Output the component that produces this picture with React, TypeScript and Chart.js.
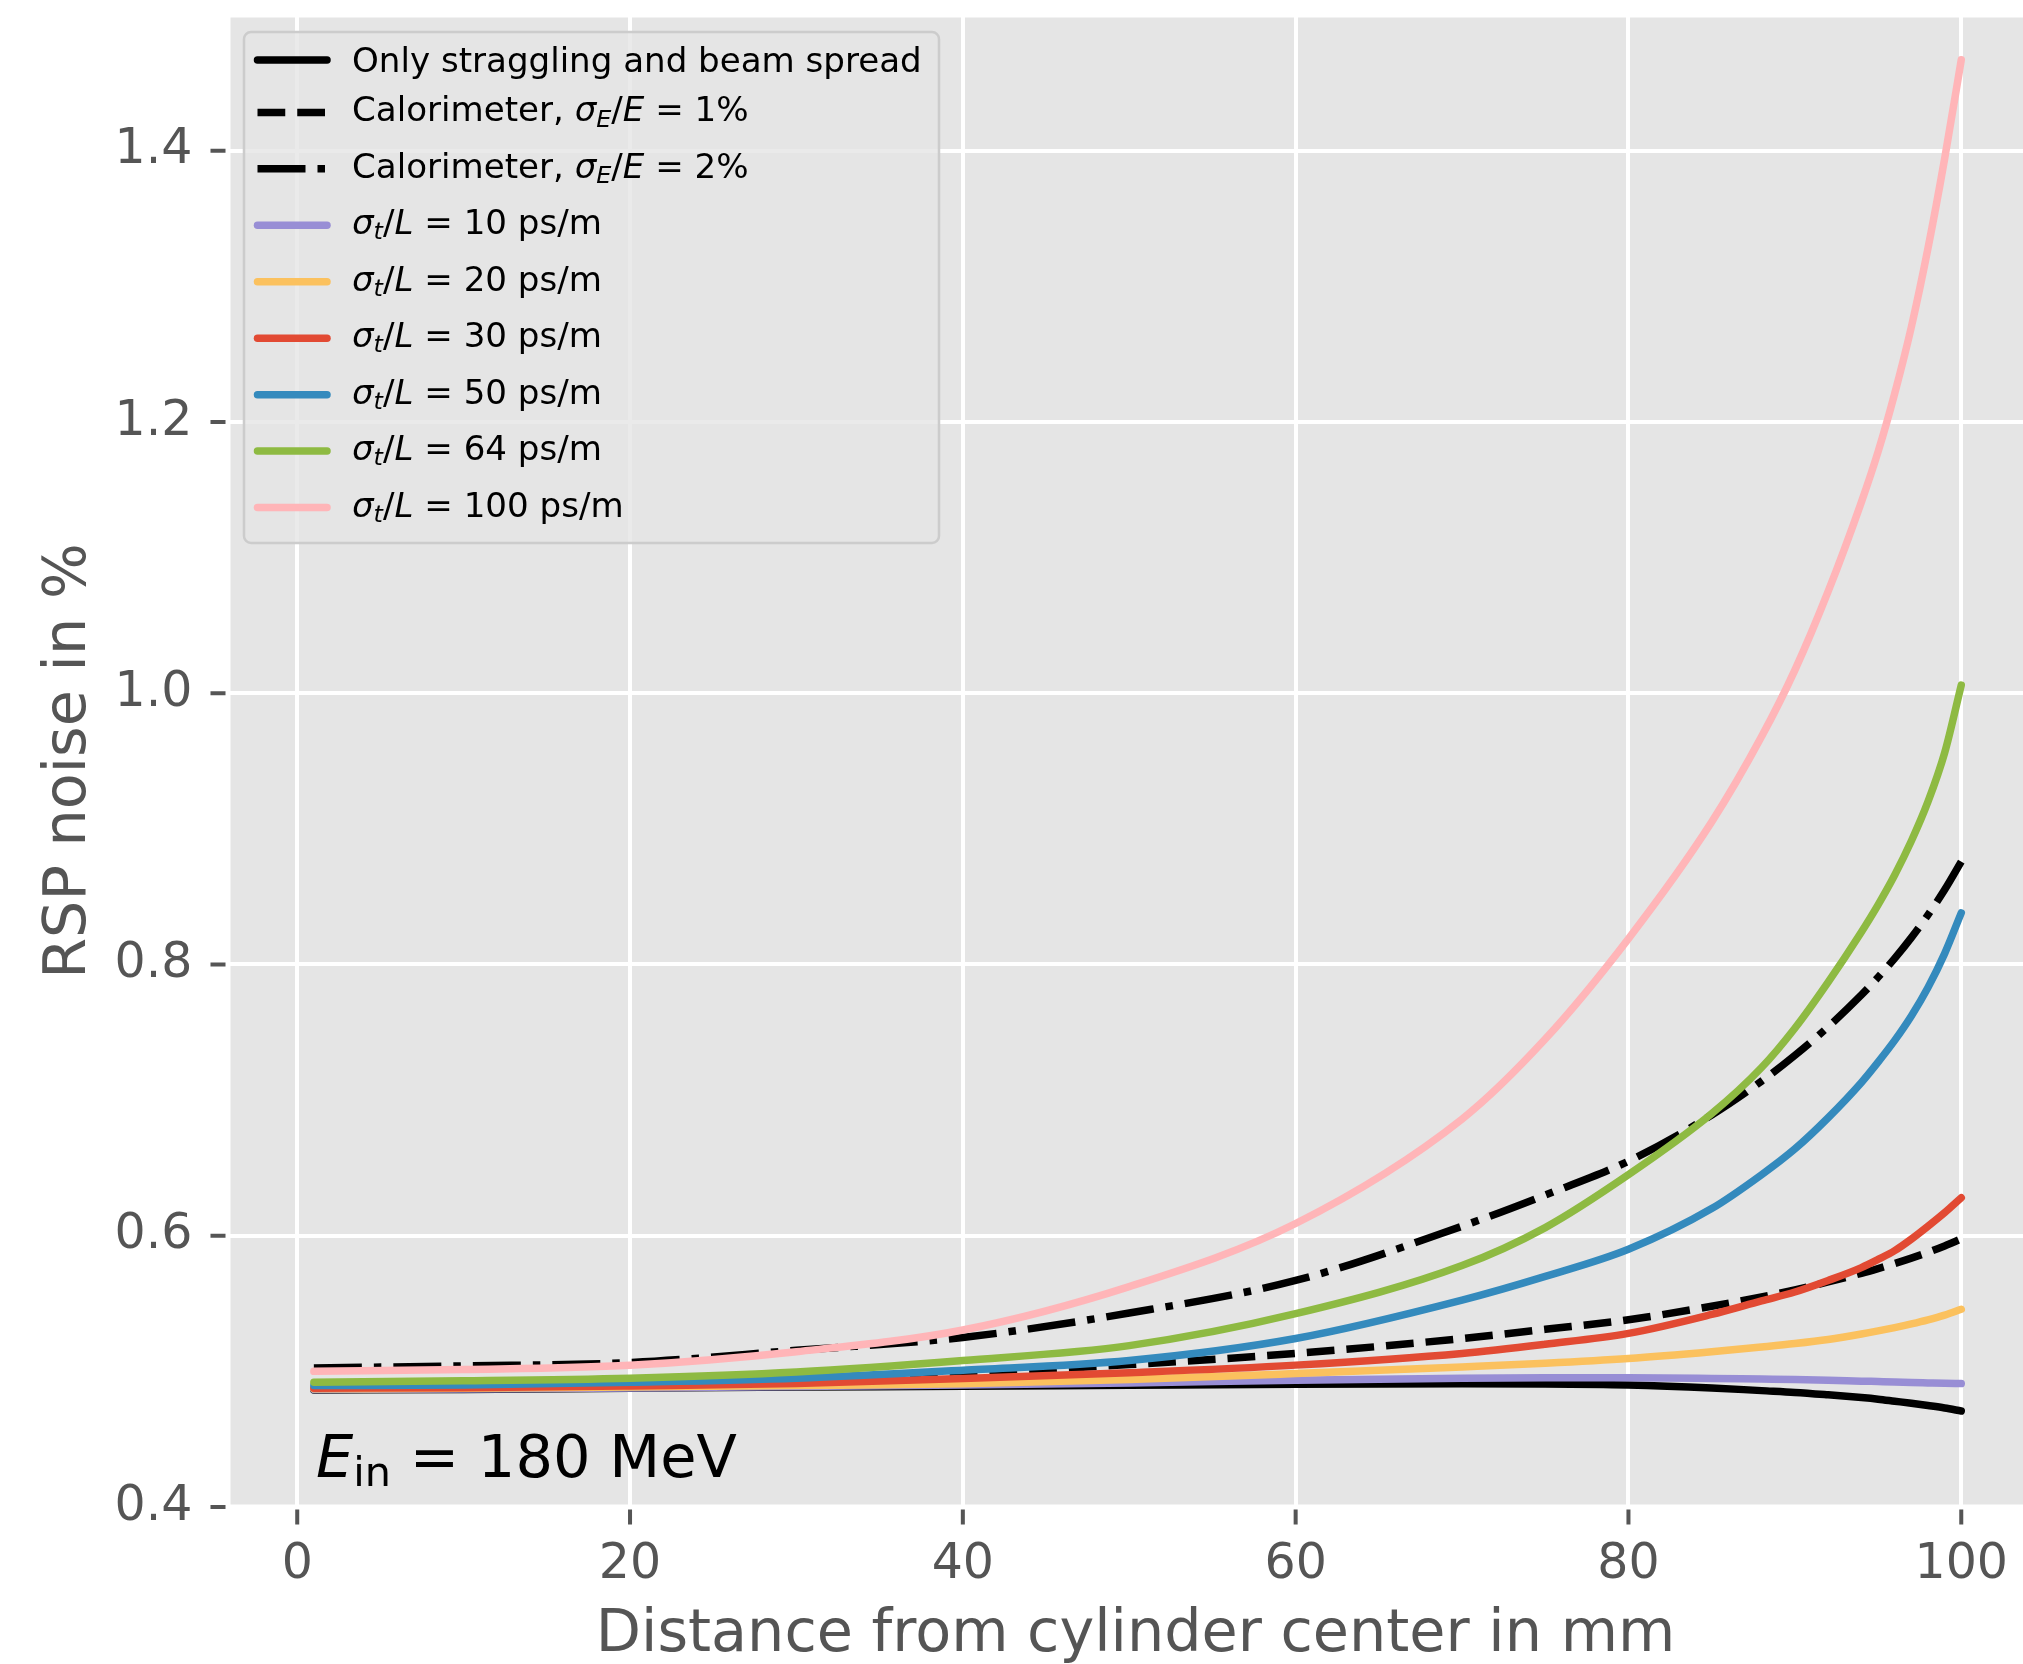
import { useEffect, useRef } from "react";
import { Chart, registerables } from "chart.js";

Chart.register(...registerables);

// Distance from the cylinder center (mm) at which the RSP noise was evaluated
const distanceMm = [1, 10, 20, 30, 40, 50, 60, 70, 75, 80, 85, 88, 90, 92, 94, 95, 96, 97, 98, 99, 100];

// RSP noise in % for each resolution scenario
const onlyStraggling = [0.4863, 0.4867, 0.4876, 0.4884, 0.489, 0.4898, 0.4905, 0.4908, 0.4907, 0.49, 0.4878, 0.4858, 0.4845, 0.4827, 0.4807, 0.4795, 0.478, 0.4765, 0.4748, 0.473, 0.4708];
const calorimeter1 = [0.489, 0.4895, 0.491, 0.494, 0.4984, 0.505, 0.5132, 0.5242, 0.531, 0.538, 0.548, 0.5549, 0.5601, 0.5659, 0.5723, 0.5758, 0.5795, 0.5835, 0.5878, 0.5925, 0.5977];
const calorimeter2 = [0.5025, 0.504, 0.5065, 0.5155, 0.525, 0.543, 0.567, 0.607, 0.63, 0.655, 0.689, 0.714, 0.733, 0.754, 0.7775, 0.7905, 0.8045, 0.8198, 0.8365, 0.855, 0.8758];
const tof10 = [0.4866, 0.487, 0.4878, 0.4888, 0.49, 0.4915, 0.4935, 0.495, 0.4953, 0.4953, 0.4948, 0.4943, 0.494, 0.4935, 0.4928, 0.4925, 0.4922, 0.4918, 0.4915, 0.4912, 0.491];
const tof20 = [0.4871, 0.4875, 0.4885, 0.4895, 0.4908, 0.494, 0.4984, 0.5033, 0.506, 0.5095, 0.5145, 0.518, 0.5205, 0.5235, 0.5275, 0.5298, 0.5323, 0.535, 0.538, 0.5415, 0.5458];
const tof30 = [0.4876, 0.488, 0.4893, 0.491, 0.4947, 0.499, 0.5046, 0.5132, 0.52, 0.528, 0.542, 0.552, 0.5585, 0.567, 0.5765, 0.5825, 0.589, 0.5975, 0.607, 0.617, 0.628];
const tof50 = [0.4895, 0.49, 0.492, 0.495, 0.5009, 0.508, 0.5242, 0.5525, 0.57, 0.59, 0.62, 0.645, 0.664, 0.687, 0.713, 0.728, 0.744, 0.762, 0.783, 0.808, 0.838];
const tof64 = [0.492, 0.493, 0.495, 0.4995, 0.508, 0.519, 0.5425, 0.578, 0.606, 0.645, 0.69, 0.724, 0.753, 0.787, 0.824, 0.844, 0.866, 0.891, 0.92, 0.956, 1.006];
const tof100 = [0.5, 0.5013, 0.5045, 0.5145, 0.5305, 0.5625, 0.609, 0.686, 0.745, 0.819, 0.905, 0.968, 1.017, 1.075, 1.141, 1.178, 1.221, 1.27, 1.328, 1.394, 1.467];

const xTickValues = [0, 20, 40, 60, 80, 100];
const yTickValues = [0.4, 0.6, 0.8, 1.0, 1.2, 1.4];

const xTitle = "Distance from cylinder center in mm";
const yTitle = "RSP noise in %";

type Run = { t: string; i?: boolean; sub?: boolean };

const energyRuns: Run[] = [{ t: "E", i: true }, { t: "in", sub: true }, { t: " = 180 MeV" }];

const tofRuns = (v: string): Run[] => [
  { t: "σ", i: true },
  { t: "t", i: true, sub: true },
  { t: "/" },
  { t: "L", i: true },
  { t: ` = ${v} ps/m` },
];
const caloRuns = (v: string): Run[] => [
  { t: "Calorimeter, " },
  { t: "σ", i: true },
  { t: "E", i: true, sub: true },
  { t: "/" },
  { t: "E", i: true },
  { t: ` = ${v}%` },
];

const FAMILY = '"DejaVu Sans"';
const LW = 7.5;
const DASHED = [27.75, 12];
const DASHDOT = [48, 12, 7.5, 12];

type Series = { label: string; runs: Run[]; values: number[]; color: string; dash: number[] };

const series: Series[] = [
  { label: "Only straggling and beam spread", runs: [{ t: "Only straggling and beam spread" }], values: onlyStraggling, color: "#000000", dash: [] },
  { label: "Calorimeter, σE/E = 1%", runs: caloRuns("1"), values: calorimeter1, color: "#000000", dash: DASHED },
  { label: "Calorimeter, σE/E = 2%", runs: caloRuns("2"), values: calorimeter2, color: "#000000", dash: DASHDOT },
  { label: "σt/L = 10 ps/m", runs: tofRuns("10"), values: tof10, color: "#988ED5", dash: [] },
  { label: "σt/L = 20 ps/m", runs: tofRuns("20"), values: tof20, color: "#FBC15E", dash: [] },
  { label: "σt/L = 30 ps/m", runs: tofRuns("30"), values: tof30, color: "#E24A33", dash: [] },
  { label: "σt/L = 50 ps/m", runs: tofRuns("50"), values: tof50, color: "#348ABD", dash: [] },
  { label: "σt/L = 64 ps/m", runs: tofRuns("64"), values: tof64, color: "#8EBA42", dash: [] },
  { label: "σt/L = 100 ps/m", runs: tofRuns("100"), values: tof100, color: "#FFB5B8", dash: [] },
];

function drawRuns(ctx: CanvasRenderingContext2D, runs: Run[], x: number, y: number, size: number, subShift: number) {
  let cx = x;
  for (const r of runs) {
    const s = r.sub ? size * 0.7 : size;
    ctx.font = `${r.i ? "italic " : ""}${s}px ${FAMILY}`;
    ctx.fillText(r.t, cx, r.sub ? y + size * subShift : y);
    cx += ctx.measureText(r.t).width;
  }
}

const decorations = {
  id: "ggDecor",
  beforeDraw(chart: any) {
    const { ctx, chartArea: a } = chart;
    ctx.save();
    ctx.fillStyle = "#ffffff";
    ctx.fillRect(0, 0, chart.width, chart.height);
    ctx.fillStyle = "#E5E5E5";
    ctx.fillRect(a.left, a.top, a.right - a.left, a.bottom - a.top);
    ctx.restore();
  },
  afterDatasetsDraw(chart: any) {
    const { ctx, chartArea: a } = chart;
    ctx.save();
    // white spines
    ctx.strokeStyle = "#ffffff";
    ctx.lineWidth = 5;
    ctx.beginPath();
    ctx.moveTo(a.left, a.top);
    ctx.lineTo(a.right, a.top);
    ctx.moveTo(a.left, a.top);
    ctx.lineTo(a.left, a.bottom);
    ctx.lineTo(a.right, a.bottom);
    ctx.stroke();

    // beam energy annotation
    ctx.fillStyle = "#000000";
    ctx.textBaseline = "alphabetic";
    ctx.textAlign = "left";
    drawRuns(ctx, energyRuns, 316, 1477, 59, 0.157);

    // legend
    const lx = 244, ly = 32, lw = 695, lh = 511;
    ctx.beginPath();
    ctx.roundRect(lx, ly, lw, lh, 7);
    ctx.fillStyle = "rgba(229,229,229,0.8)";
    ctx.fill();
    ctx.strokeStyle = "#CCCCCC";
    ctx.lineWidth = 2.5;
    ctx.stroke();

    series.forEach((s, i) => {
      const cy = i === 0 ? 60 : 112.4 + (i - 1) * 56.45;
      ctx.save();
      ctx.beginPath();
      ctx.strokeStyle = s.color;
      ctx.lineWidth = LW;
      ctx.setLineDash(s.dash);
      ctx.lineCap = s.dash.length ? "butt" : "round";
      ctx.moveTo(257.5, cy);
      ctx.lineTo(327, cy);
      ctx.stroke();
      ctx.restore();
      ctx.fillStyle = "#000000";
      drawRuns(ctx, s.runs, 352, cy + (i === 0 ? 12 : 9), 34.1, 0.15);
    });
    ctx.restore();
  },
  afterDraw(chart: any) {
    const { ctx, chartArea: a } = chart;
    const xs = chart.scales.x;
    const ys = chart.scales.y;
    ctx.save();
    ctx.strokeStyle = "#555555";
    ctx.lineWidth = 4;
    ctx.beginPath();
    for (const v of xTickValues) {
      const px = xs.getPixelForValue(v);
      ctx.moveTo(px, a.bottom + 2.5);
      ctx.lineTo(px, a.bottom + 17.5);
    }
    for (const v of yTickValues) {
      const py = ys.getPixelForValue(v);
      ctx.moveTo(a.left - 2.5, py);
      ctx.lineTo(a.left - 17.5, py);
    }
    ctx.stroke();

    ctx.fillStyle = "#555555";
    ctx.font = `58.8px ${FAMILY}`;
    ctx.textAlign = "center";
    ctx.textBaseline = "alphabetic";
    ctx.fillText(xTitle, 1135.5, 1651);
    ctx.translate(85, 761);
    ctx.rotate(-Math.PI / 2);
    ctx.fillText(yTitle, 0, 0);
    ctx.restore();
  },
};

export default function App() {
  const ref = useRef<HTMLCanvasElement | null>(null);

  useEffect(() => {
    if (!ref.current) return;
    const chart = new Chart(ref.current, {
      type: "line",
      data: {
        datasets: series.map((s, i) => ({
          label: s.label,
          data: distanceMm.map((x, k) => ({ x, y: s.values[k] })),
          borderColor: s.color,
          backgroundColor: s.color,
          borderWidth: LW,
          borderDash: s.dash,
          borderCapStyle: s.dash.length ? "butt" : "round",
          borderJoinStyle: "round",
          pointRadius: 0,
          fill: false,
          cubicInterpolationMode: "monotone",
          order: series.length - 1 - i,
        })),
      },
      options: {
        animation: false,
        responsive: false,
        devicePixelRatio: 1,
        layout: { padding: { top: 15, left: 0, right: 0, bottom: 0 } },
        plugins: { legend: { display: false }, tooltip: { enabled: false } },
        scales: {
          x: {
            type: "linear",
            min: -4.16,
            max: 103.71,
            afterFit: (s: any) => {
              s.height = 157;
              s.paddingLeft = 0;
              s.paddingRight = 0;
            },
            afterBuildTicks: (s: any) => {
              s.ticks = xTickValues.map((value) => ({ value }));
            },
            grid: { color: "#ffffff", lineWidth: 4, drawTicks: false },
            border: { display: false },
            ticks: {
              color: "#555555",
              font: { size: 49, family: FAMILY },
              padding: 29,
              maxRotation: 0,
              autoSkip: false,
              callback: (v: any) => String(v),
            },
          },
          y: {
            type: "linear",
            min: 0.4,
            max: 1.5,
            afterFit: (s: any) => {
              s.width = 228;
              s.paddingTop = 0;
              s.paddingBottom = 0;
            },
            afterBuildTicks: (s: any) => {
              s.ticks = yTickValues.map((value) => ({ value }));
            },
            grid: { color: "#ffffff", lineWidth: 4, drawTicks: false },
            border: { display: false },
            ticks: {
              color: "#555555",
              font: { size: 49, family: FAMILY },
              padding: 35.5,
              autoSkip: false,
              callback: (v: any) => Number(v).toFixed(1),
            },
          },
        },
      },
      plugins: [decorations],
    } as any);
    return () => chart.destroy();
  }, []);

  return (
    <div style={{ position: "absolute", left: 0, top: 0, width: 2023, height: 1664 }}>
      <canvas ref={ref} width={2023} height={1664} style={{ display: "block", width: 2023, height: 1664 }} />
    </div>
  );
}
